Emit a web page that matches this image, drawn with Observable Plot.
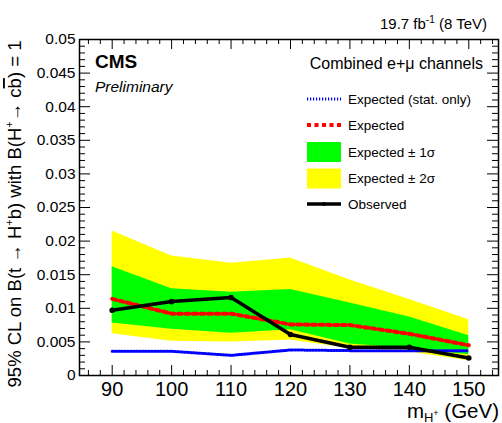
<!DOCTYPE html>
<html><head><meta charset="utf-8">
<script src="https://cdn.jsdelivr.net/npm/d3@7"></script>
<script src="https://cdn.jsdelivr.net/npm/@observablehq/plot@0.6"></script>
<style>
body{margin:0;background:#fff;}
#chart svg{font-family:"Liberation Sans",Arial,Helvetica,sans-serif;overflow:visible;}
</style>
</head><body><div id="chart"></div><script>
// ---- data ----
const mass = [90, 100, 110, 120, 130, 140, 150];
const observed = [0.0097, 0.0110, 0.0116, 0.0061, 0.0042, 0.0042, 0.0026];
const expected = [0.0114, 0.0092, 0.0092, 0.0076, 0.0075, 0.0062, 0.0045];
const expectedStat = [0.0036, 0.0036, 0.0030, 0.0038, 0.0037, 0.0037, 0.0037];
const sigma1Low = [0.0078, 0.0069, 0.0063, 0.0068, 0.0047, 0.0040, 0.0031];
const sigma1High = [0.0162, 0.0129, 0.0124, 0.0128, 0.0108, 0.0087, 0.0059];
const sigma2Low = [0.0062, 0.0051, 0.0050, 0.0053, 0.0040, 0.0035, 0.0022];
const sigma2High = [0.0215, 0.0178, 0.0167, 0.0175, 0.0142, 0.0113, 0.0083];
const xTicks = [90, 100, 110, 120, 130, 140, 150];
const xMinorTicks = [86, 88, 92, 94, 96, 98, 102, 104, 106, 108, 112, 114, 116, 118, 122, 124, 126, 128, 132, 134, 136, 138, 142, 144, 146, 148, 152, 154];
const yTicks = [0, 0.005, 0.01, 0.015, 0.02, 0.025, 0.03, 0.035, 0.04, 0.045, 0.05];
const yTickLabels = ["0", "0.005", "0.01", "0.015", "0.02", "0.025", "0.03", "0.035", "0.04", "0.045", "0.05"];
const yMinorTicks = d3.range(1, 50).filter(k => k % 5 !== 0).map(k => k / 1000);
const legendLabels = ["Expected (stat. only)", "Expected", "Expected \u00B1 1\u03C3", "Expected \u00B1 2\u03C3", "Observed"];

const rows = mass.map((m, i) => ({
  m, obs: observed[i], exp: expected[i], stat: expectedStat[i],
  s1lo: sigma1Low[i], s1hi: sigma1High[i], s2lo: sigma2Low[i], s2hi: sigma2High[i]
}));

const W = 502, H = 423, mL = 79, mR = 4, mT = 39, mB = 48;
const fW = W - mL - mR, fH = H - mT - mB;
const statDash = "1.2,1.8", expDash = "4,3.5";

const svg = Plot.plot({
  width: W, height: H,
  marginLeft: mL, marginRight: mR, marginTop: mT, marginBottom: mB,
  x: {domain: [84.5, 155]},
  y: {domain: [0, 0.05]},
  marks: [
    Plot.areaY(rows, {x: "m", y1: "s2lo", y2: "s2hi", fill: "#ffff00"}),
    Plot.areaY(rows, {x: "m", y1: "s1lo", y2: "s1hi", fill: "#00ff00"}),
    Plot.line(rows, {x: "m", y: "stat", stroke: "#0000ff", strokeWidth: 3, strokeDasharray: statDash}),
    Plot.line(rows, {x: "m", y: "exp", stroke: "#ff0000", strokeWidth: 4, strokeDasharray: expDash}),
    Plot.line(rows, {x: "m", y: "obs", stroke: "#000", strokeWidth: 3.5}),
    Plot.dot(rows, {x: "m", y: "obs", r: 2.8, fill: "#000"}),
    // ticks on all four sides (pointing inward)
    Plot.tickX(xTicks, {x: d => d, insetTop: fH - 10, stroke: "#000"}),
    Plot.tickX(xMinorTicks, {x: d => d, insetTop: fH - 5, stroke: "#000"}),
    Plot.tickX(xTicks, {x: d => d, insetBottom: fH - 10, stroke: "#000"}),
    Plot.tickX(xMinorTicks, {x: d => d, insetBottom: fH - 5, stroke: "#000"}),
    Plot.tickY(yTicks, {y: d => d, insetRight: fW - 11, stroke: "#000"}),
    Plot.tickY(yMinorTicks, {y: d => d, insetRight: fW - 6, stroke: "#000"}),
    Plot.tickY(yTicks, {y: d => d, insetLeft: fW - 11, stroke: "#000"}),
    Plot.tickY(yMinorTicks, {y: d => d, insetLeft: fW - 6, stroke: "#000"}),
    Plot.axisX(xTicks, {tickSize: 0, tickPadding: 6, fontSize: 20, label: null, color: "#000"}),
    Plot.axisY(yTicks, {tickSize: 0, tickPadding: 4, fontSize: 15.5, label: null, color: "#000",
      tickFormat: d => yTickLabels[yTicks.indexOf(d)]}),
    Plot.frame({stroke: "#000", strokeWidth: 1.5})
  ]
});
document.getElementById("chart").appendChild(svg);

const s = d3.select(svg);
const txt = (x, y, size, anchor) => s.append("text").attr("x", x).attr("y", y)
  .attr("font-size", size).attr("text-anchor", anchor).attr("fill", "#000");
// CMS / Preliminary
txt(95, 68, 19, "start").attr("font-weight", "bold").text("CMS");
txt(95, 91.5, 15.5, "start").attr("font-style", "italic").text("Preliminary");
// luminosity
const lumi = txt(487, 29, 15, "end");
lumi.append("tspan").text("19.7 fb");
lumi.append("tspan").attr("font-size", 10).attr("dy", -6).text("-1");
lumi.append("tspan").attr("dy", 6).text(" (8 TeV)");
// legend
txt(483, 69, 16, "end").text("Combined e+\u03BC channels");
const rowY = [99, 125, 152, 178.5, 204];
const sx0 = 307, sx1 = 341, tx = 348;
s.append("line").attr("x1", sx0).attr("x2", sx1).attr("y1", rowY[0]).attr("y2", rowY[0])
  .attr("stroke", "#0000ff").attr("stroke-width", 3).attr("stroke-dasharray", statDash);
s.append("line").attr("x1", sx0).attr("x2", sx1).attr("y1", rowY[1]).attr("y2", rowY[1])
  .attr("stroke", "#ff0000").attr("stroke-width", 4).attr("stroke-dasharray", expDash);
s.append("rect").attr("x", sx0).attr("y", rowY[2] - 10).attr("width", sx1 - sx0).attr("height", 20).attr("fill", "#00ff00");
s.append("rect").attr("x", sx0).attr("y", rowY[3] - 10).attr("width", sx1 - sx0).attr("height", 20).attr("fill", "#ffff00");
s.append("line").attr("x1", sx0).attr("x2", sx1).attr("y1", rowY[4]).attr("y2", rowY[4])
  .attr("stroke", "#000").attr("stroke-width", 3.5);
s.append("circle").attr("cx", (sx0 + sx1) / 2).attr("cy", rowY[4]).attr("r", 2).attr("fill", "#000");
legendLabels.forEach((t, i) => {
  txt(tx, rowY[i] + 4.5, 13.5, "start").text(t);
});
// x title
const xt = txt(499, 418, 20.5, "end");
xt.append("tspan").text("m");
xt.append("tspan").attr("font-size", 13).attr("dy", 3.5).text("H");
xt.append("tspan").attr("font-size", 9).attr("dy", -6).text("+");
xt.append("tspan").attr("dy", 2.5).text(" (GeV)");
// y title
const yt = s.append("text").attr("transform", "translate(21,214) rotate(-90)")
  .attr("font-size", 18.5).attr("text-anchor", "middle").attr("fill", "#000");
yt.append("tspan").text("95% CL on B(t \u2192 H");
yt.append("tspan").attr("font-size", 11).attr("dy", -8).text("+");
yt.append("tspan").attr("dy", 8).text("b) with B(H");
yt.append("tspan").attr("font-size", 11).attr("dy", -8).text("+");
yt.append("tspan").attr("dy", 8).text("\u2192 c");
yt.append("tspan").attr("text-decoration", "overline").text("b");
yt.append("tspan").text(") = 1");
</script></body></html>
